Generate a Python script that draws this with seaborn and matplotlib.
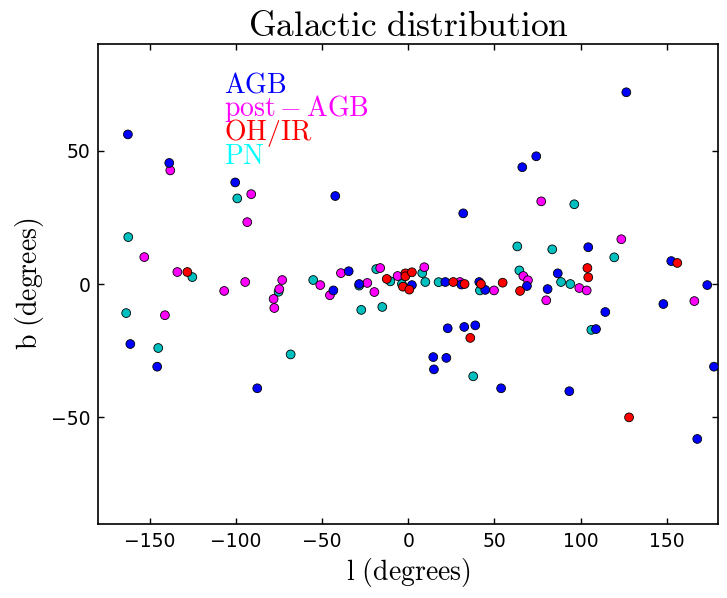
import pandas as pd
import seaborn as sns
import matplotlib
matplotlib.use("Agg")
import matplotlib.pyplot as plt

# galactic coordinates (l, b) per class
agb_l = [-162.8, -138.8, -100.5, -42.4, 126.6, 74.3, 66.2, 31.9, 104.5, 152.7,
         -34.6, -43.5, -28.5, 2.1, 21.5, 30.8, 41.2, 44.7, 68.9, 86.8,
         80.9, 114.4, 109.0, 148.1, 173.6, 177.5, 22.9, 32.5, 38.9, 14.5,
         22.1, 14.9, -161.4, -145.8, -87.7, 53.9, 93.5, 167.8]
agb_b = [56.1, 45.4, 38.1, 33.0, 71.9, 47.9, 43.8, 26.5, 13.8, 8.6,
         4.8, -2.4, 0.0, -0.4, 0.75, -0.2, 0.75, -2.2, -0.75, 4.0,
         -1.9, -10.5, -16.9, -7.5, -0.4, -31.0, -16.6, -16.1, -15.5, -27.4,
         -27.7, -32.0, -22.5, -31.0, -39.1, -39.1, -40.2, -58.1]

post_l = [-138.2, -91.2, -93.5, -153.3, -134.1, -106.9, -94.7, -78.2, -77.8, -74.9,
          -73.2, -51.1, -45.5, -39.1, -23.8, -19.7, -16.3, -6.2, 9.3, 30.0,
          49.8, 66.8, 69.5, 80.1, 99.3, 103.6, 77.2, 123.7, 166.1, -141.3]
post_b = [42.6, 33.7, 23.2, 10.1, 4.5, -2.6, 0.75, -5.6, -9.0, -1.9,
          1.5, -0.4, -4.2, 4.1, 0.4, -3.0, 6.0, 3.0, 6.3, 0.75,
          -2.4, 3.0, 1.4, -6.1, -1.5, -2.4, 31.0, 16.8, -6.4, -11.7]

ohir_l = [-128.3, -12.5, -1.7, -1.7, 2.1, -3.1, 0.6, 26.1, 32.7, 42.2,
          54.8, 64.9, 104.0, 104.5, 156.2, 36.0, 128.2]
ohir_b = [4.5, 1.9, 4.0, 2.9, 4.4, -1.0, -2.1, 0.75, 0.0, 0.0,
          0.5, -2.6, 6.0, 2.5, 7.9, -20.2, -50.0]

pn_l = [-99.3, -162.6, -125.4, -75.3, -55.2, -28.5, -18.6, -27.3, -15.1, -10.4,
        -3.7, 8.1, 9.9, 17.6, 41.6, 64.5, 88.7, 94.1, 119.6, 63.3,
        83.6, 96.4, 106.3, -163.8, -145.2, -68.3, 37.7]
pn_b = [32.1, 17.6, 2.6, -2.9, 1.5, -0.6, 5.6, -9.7, -8.6, 1.0,
        0.0, 4.1, 0.75, 0.7, -2.4, 5.1, 0.75, 0.0, 10.0, 14.1,
        13.0, 29.9, -17.2, -10.9, -24.0, -26.4, -34.6]

classes = ["PN", "post-AGB", "AGB", "OH/IR"]
marker_colors = {"AGB": "#0000ff", "post-AGB": "#ff00ff", "OH/IR": "#ff0000", "PN": "#00bfbf"}
text_colors = {"AGB": "#0000ff", "post-AGB": "#ff00ff", "OH/IR": "#ff0000", "PN": "#00ffff"}
labels = {"AGB": r"$\mathrm{AGB}$", "post-AGB": r"$\mathrm{post-AGB}$",
          "OH/IR": r"$\mathrm{OH/IR}$", "PN": r"$\mathrm{PN}$"}

tabela = pd.concat([
    pd.DataFrame({"l": pn_l, "b": pn_b, "classe": "PN"}),
    pd.DataFrame({"l": post_l, "b": post_b, "classe": "post-AGB"}),
    pd.DataFrame({"l": agb_l, "b": agb_b, "classe": "AGB"}),
    pd.DataFrame({"l": ohir_l, "b": ohir_b, "classe": "OH/IR"}),
], ignore_index=True)

plt.rcParams["mathtext.fontset"] = "cm"
plt.rcParams["font.family"] = ["DejaVu Sans"]

fig = plt.figure(figsize=(7.27, 5.98), dpi=100)
ax = fig.add_axes([0.1352, 0.1237, 0.8528, 0.8027])

sns.scatterplot(data=tabela, x="l", y="b", hue="classe", palette=marker_colors,
                hue_order=classes, s=40, edgecolor="black", linewidth=0.6,
                legend=False, ax=ax, zorder=3)

ax.set_xlim(-180, 180)
ax.set_ylim(-90, 90)
ax.set_xticks([-150, -100, -50, 0, 50, 100, 150])
ax.set_yticks([-50, 0, 50])
ax.tick_params(direction="in", length=4, width=1, top=True, right=True,
               labelsize=13.5, pad=5.5)
for s in ax.spines.values():
    s.set_linewidth(1.2)

ax.set_title(r"$\mathrm{Galactic\ distribution}$", fontsize=25.5, pad=6)
ax.set_xlabel(r"$\mathrm{l\ (degrees)}$", fontsize=20, labelpad=4)
ax.set_ylabel(r"$\mathrm{b\ (degrees)}$", fontsize=20, labelpad=4)

# legenda em texto colorido
for i, c in enumerate(["AGB", "post-AGB", "OH/IR", "PN"]):
    ax.text(0.203, 0.899 - i * 0.0494, labels[c], color=text_colors[c],
            fontsize=20, transform=ax.transAxes, va="baseline")

fig.savefig("out.png", dpi=100)
